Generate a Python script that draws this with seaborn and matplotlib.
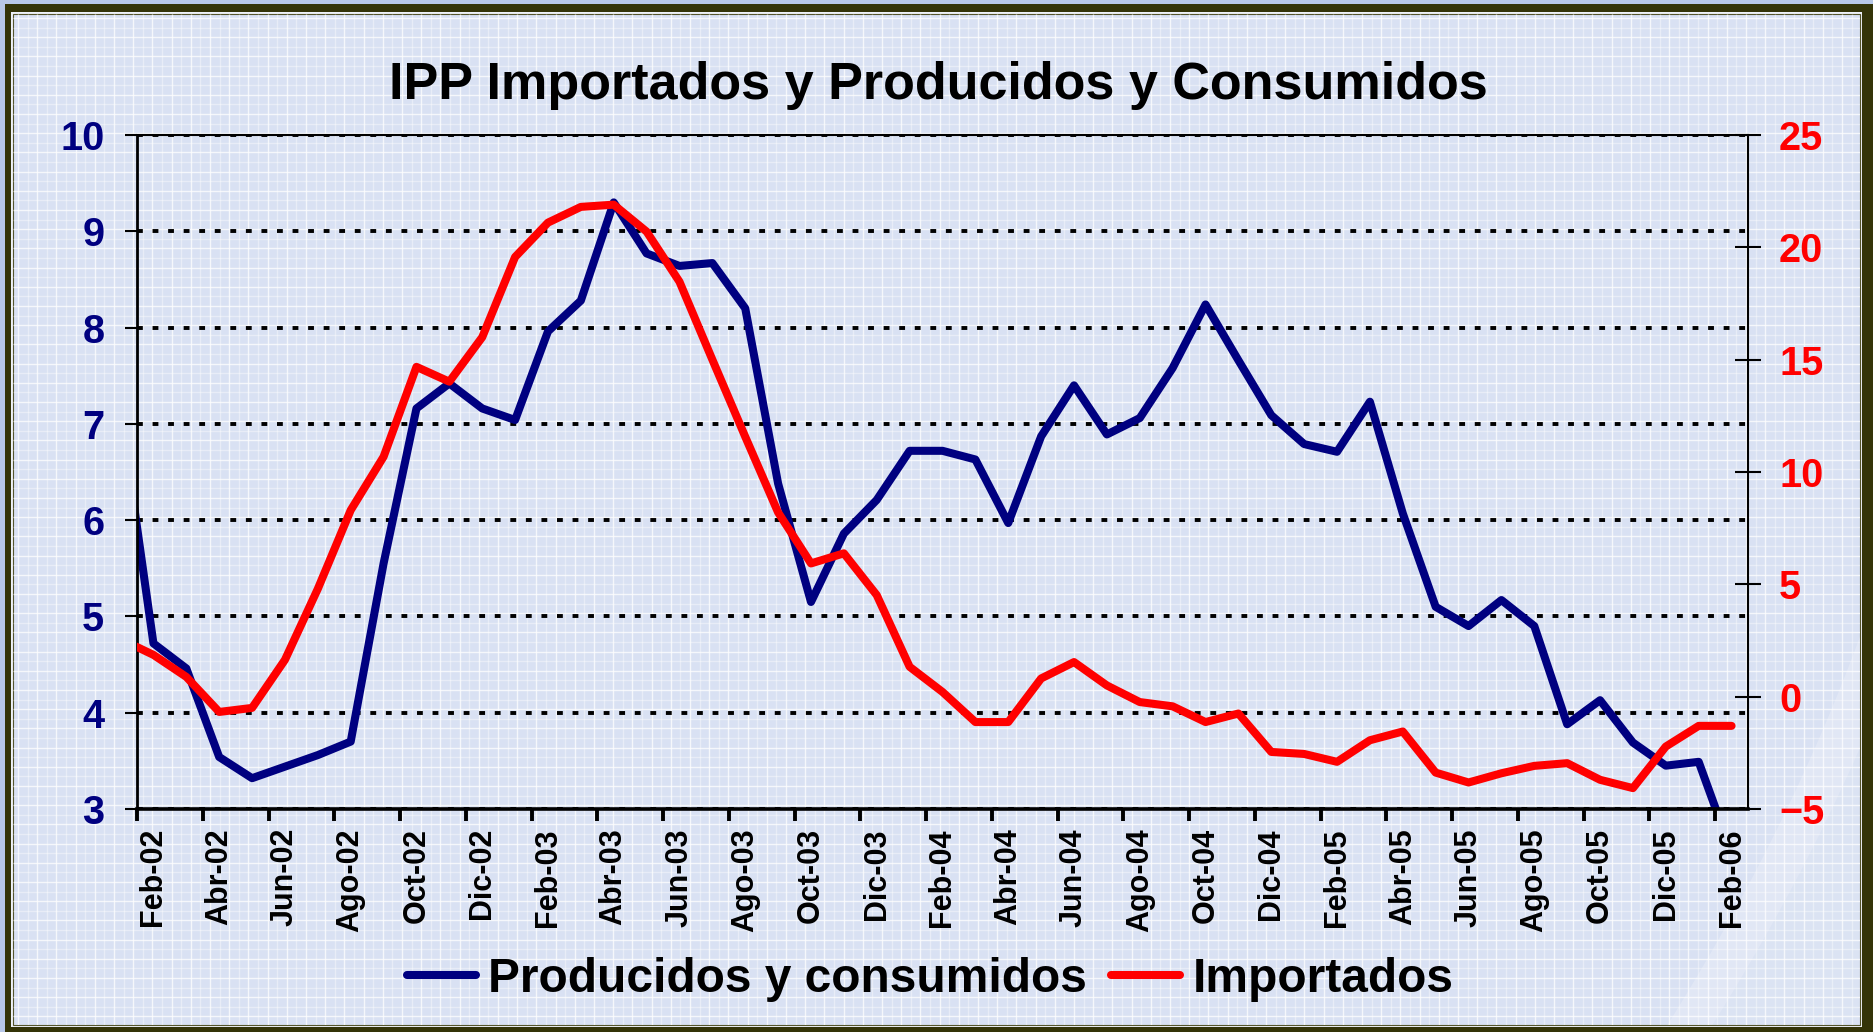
import numpy as np
import matplotlib
matplotlib.use("Agg")
import matplotlib.pyplot as plt
from matplotlib.patches import Rectangle, Polygon
import seaborn as sns

plt.rcParams['font.family'] = ['Liberation Sans', 'DejaVu Sans']
plt.rcParams['font.weight'] = 'bold'

titulo = "IPP Importados y Producidos y Consumidos"
serie_azul = "Producidos y consumidos"
serie_roja = "Importados"

nombres_mes = ["Ene", "Feb", "Mar", "Abr", "May", "Jun", "Jul", "Ago", "Sep", "Oct", "Nov", "Dic"]
# Ene-02 only feeds the piece of line that enters from the left edge
meses = [f"{m}-{a:02d}" for a in range(2, 7) for m in nombres_mes][:50]

etiquetas = ["Feb-02", "Abr-02", "Jun-02", "Ago-02", "Oct-02", "Dic-02",
             "Feb-03", "Abr-03", "Jun-03", "Ago-03", "Oct-03", "Dic-03",
             "Feb-04", "Abr-04", "Jun-04", "Ago-04", "Oct-04", "Dic-04",
             "Feb-05", "Abr-05", "Jun-05", "Ago-05", "Oct-05", "Dic-05",
             "Feb-06"]

# left axis
producidos = [7.14,
              4.72, 4.46, 3.54, 3.32, 3.44, 3.56, 3.70, 5.55, 7.16, 7.42, 7.16,
              7.04, 7.96, 8.28, 9.30, 8.77, 8.64, 8.67, 8.20, 6.38, 5.15, 5.86, 6.21,
              6.72, 6.72, 6.63, 5.97, 6.87, 7.40, 6.89, 7.06, 7.58, 8.24, 7.66, 7.09,
              6.79, 6.71, 7.23, 6.07, 5.10, 4.90, 5.17, 4.90, 3.88, 4.13, 3.69, 3.45,
              3.49, 2.55]
# right axis
importados = [2.56,
              1.86, 0.88, -0.68, -0.50, 1.64, 4.80, 8.30, 10.68, 14.68, 14.02, 16.00,
              19.57, 21.10, 21.80, 21.90, 20.70, 18.47, 15.00, 11.57, 8.20, 5.93, 6.38, 4.52,
              1.33, 0.21, -1.13, -1.13, 0.81, 1.54, 0.50, -0.24, -0.43, -1.13, -0.75, -2.46,
              -2.55, -2.90, -1.94, -1.55, -3.38, -3.82, -3.41, -3.08, -2.96, -3.70, -4.07, -2.22,
              -1.30, -1.30]

W, H = 1873, 1032
fig = plt.figure(figsize=(W / 100, H / 100), dpi=100)
fig.patch.set_facecolor('#b8c8e8')

# background: frame, fine white grid, light swoosh bottom right
bg = fig.add_axes([0, 0, 1, 1], zorder=-10)
bg.set_xlim(0, W)
bg.set_ylim(H, 0)
bg.axis('off')
bg.add_patch(Rectangle((5, 4), W, H, facecolor='#343408', edgecolor='none'))
bg.add_patch(Rectangle((11.5, 12), 1862.5 - 11.5, 1027 - 12, facecolor='#eef1f8', edgecolor='none'))
inner = Rectangle((13.5, 14), 1860.5 - 13.5, 1025 - 14, facecolor='#d9e1f3', edgecolor='#55552a', lw=0.8)
bg.add_patch(inner)
for k, gx in enumerate(np.arange(18, 1860, 9.6)):
    ln = bg.vlines(gx, 14, 1025, color='white', lw=1, alpha=0.75 if k % 2 == 0 else 0.4)
    ln.set_clip_path(inner)
for k, gy in enumerate(np.arange(18, 1025, 9.6)):
    ln = bg.hlines(gy, 13.5, 1860.5, color='white', lw=1, alpha=0.75 if k % 2 == 0 else 0.4)
    ln.set_clip_path(inner)
t = np.linspace(0, 1, 60)
p0, p1, p2 = np.array([1663, 1032]), np.array([1798, 818]), np.array([1873, 600])
curva = ((1 - t) ** 2)[:, None] * p0 + (2 * (1 - t) * t)[:, None] * p1 + (t ** 2)[:, None] * p2
banda = np.vstack([curva, (curva + [45, 0])[::-1]])
sw1 = bg.add_patch(Polygon(banda, closed=True, facecolor='white', alpha=0.22, edgecolor='none'))
sw1.set_clip_path(inner)
resto = np.vstack([curva + [45, 0], [[1873, 1032]]])
sw2 = bg.add_patch(Polygon(resto, closed=True, facecolor='white', alpha=0.08, edgecolor='none'))
sw2.set_clip_path(inner)

# plot area
ax = fig.add_axes([137 / W, 1 - 809 / H, (1748 - 137) / W, (809 - 135) / H])
ax.set_facecolor('none')
x = np.arange(len(meses))
sns.lineplot(x=x, y=producidos, ax=ax, color='#000080', linewidth=5.8, legend=False)
ax2 = ax.twinx()
sns.lineplot(x=x, y=importados, ax=ax2, color='#ff0000', linewidth=5.8, legend=False)
for ln in ax.lines + ax2.lines:
    ln.set_linewidth(5.8)
    ln.set_solid_capstyle('round')
    ln.set_solid_joinstyle('round')

pos_etq = [meses.index(e) for e in etiquetas]
ax.set_xlim(0.5, len(meses) - 0.5)
ax.set_ylim(3, 10)
ax2.set_ylim(-5, 25)
ax.set_xlabel('')
ax.set_ylabel('')
ax2.set_ylabel('')

ax.set_xticks([p - 0.5 for p in pos_etq])
ax.set_xticks(pos_etq, minor=True)
ax.set_xticklabels(etiquetas, minor=True)
ax.tick_params(axis='x', which='major', direction='out', length=8.6, width=2.8,
               color='black', labelbottom=False)
ax.tick_params(axis='x', which='minor', length=0, pad=13.7, labelsize=22,
               labelrotation=90, labelcolor='black')

ax.set_yticks(range(3, 11))
ax.tick_params(axis='y', direction='out', length=9, width=1.5, pad=14.5,
               labelsize=28.5, labelcolor='#000080', color='black')
ax.yaxis.grid(True, color='black', linestyle=(0, (1.5, 2.5)), lw=2.8)
ax.xaxis.grid(False)

ax2.set_yticks(range(-5, 30, 5))
ax2.tick_params(axis='y', direction='inout', length=18.7, width=1.5, pad=13.0,
                labelsize=28.5, labelcolor='#ff0000', color='black')

ax.spines['left'].set_linewidth(2.0)
ax.spines['bottom'].set_linewidth(2.6)
ax.spines['top'].set_linewidth(1.5)
ax.spines['right'].set_visible(False)
for s in ['left', 'top', 'bottom']:
    ax2.spines[s].set_visible(False)
ax2.spines['right'].set_linewidth(1.5)

fig.text(938 / W, 1 - 86 / H, titulo, ha='center', va='center', fontsize=37.5,
         fontweight='bold', color='black')

fig.legend([ax.lines[0], ax2.lines[0]], [serie_azul, serie_roja], loc='center',
           bbox_to_anchor=(930 / W, 1 - 979 / H), ncol=2, frameon=False, fontsize=34.5,
           handlelength=1.45, handletextpad=0.25, columnspacing=0.5)

fig.savefig('out.png', dpi=100, facecolor=fig.get_facecolor())
